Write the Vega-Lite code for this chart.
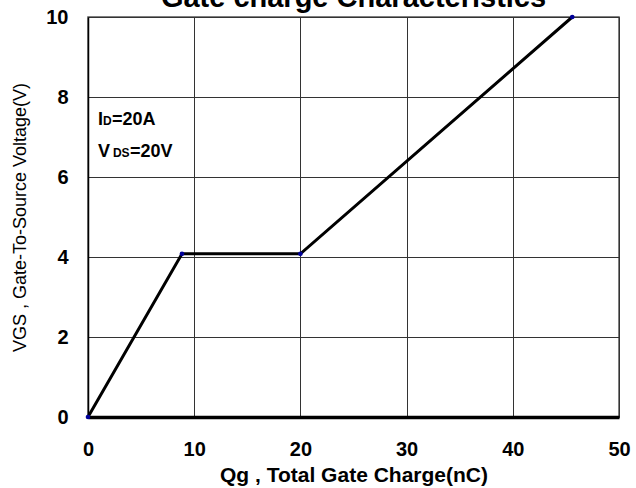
{
  "$schema": "https://vega.github.io/schema/vega-lite/v6.json",
  "autosize": {"type": "none"},
  "width": 531,
  "height": 400,
  "padding": {"left": 88, "top": 17, "right": 17, "bottom": 71},
  "background": "white",
  "title": {
    "text": "Gate charge Characteristics",
    "font": "Liberation Sans",
    "fontSize": 29,
    "fontWeight": "bold",
    "color": "black",
    "anchor": "middle",
    "baseline": "alphabetic",
    "offset": -29
  },
  "config": {
    "font": "Liberation Sans",
    "view": {"stroke": "#555555", "strokeWidth": 1.5}
  },
  "datasets": {
    "curve": [
      {"qg": 0, "vgs": 0},
      {"qg": 8.85, "vgs": 4.08},
      {"qg": 20, "vgs": 4.08},
      {"qg": 45.6, "vgs": 10}
    ],
    "notes": [
      {"x": 0.94, "y": 7.3, "t": "I"},
      {"x": 2.26, "y": 7.3, "t": "=20A"},
      {"x": 0.94, "y": 6.5, "t": "V"},
      {"x": 3.95, "y": 6.5, "t": "=20V"}
    ],
    "subs": [
      {"x": 1.41, "y": 7.3, "t": "D"},
      {"x": 2.35, "y": 6.5, "t": "DS"}
    ]
  },
  "layer": [
    {
      "data": {"name": "curve"},
      "mark": {"type": "line", "color": "black", "strokeWidth": 3, "point": {"filled": true, "color": "#000099", "size": 22}},
      "encoding": {
        "x": {
          "field": "qg", "type": "quantitative",
          "scale": {"domain": [0, 50], "nice": false, "zero": false},
          "axis": {
            "title": "Qg , Total Gate Charge(nC)",
            "values": [0, 10, 20, 30, 40, 50],
            "grid": true, "gridColor": "#333333", "gridWidth": 1, "gridOpacity": 1,
            "domain": true, "domainColor": "black", "domainWidth": 3.5,
            "ticks": false,
            "labelFont": "Liberation Sans", "labelFontSize": 20, "labelFontWeight": "bold", "labelColor": "black",
            "labelPadding": 22, "labelFlush": false,
            "titleFont": "Liberation Sans", "titleFontSize": 21, "titleFontWeight": "bold", "titleColor": "black",
            "titlePadding": 5
          }
        },
        "y": {
          "field": "vgs", "type": "quantitative",
          "scale": {"domain": [0, 10], "nice": false, "zero": false},
          "axis": {
            "title": "VGS , Gate-To-Source Voltage(V)",
            "values": [0, 2, 4, 6, 8, 10],
            "grid": true, "gridColor": "#333333", "gridWidth": 1, "gridOpacity": 1,
            "domain": true, "domainColor": "black", "domainWidth": 1.5,
            "ticks": false,
            "labelFont": "Liberation Sans", "labelFontSize": 20, "labelFontWeight": "bold", "labelColor": "black",
            "labelPadding": 20, "labelFlush": false,
            "titleFont": "Liberation Sans", "titleFontSize": 18, "titleFontWeight": "normal", "titleColor": "black",
            "titlePadding": 16
          }
        }
      }
    },
    {
      "data": {"name": "notes"},
      "mark": {"type": "text", "align": "left", "baseline": "alphabetic", "font": "Liberation Sans", "fontSize": 18, "fontWeight": "bold", "color": "black"},
      "encoding": {
        "x": {"field": "x", "type": "quantitative"},
        "y": {"field": "y", "type": "quantitative"},
        "text": {"field": "t"}
      }
    },
    {
      "data": {"name": "subs"},
      "mark": {"type": "text", "align": "left", "baseline": "alphabetic", "font": "Liberation Sans", "fontSize": 12, "fontWeight": "bold", "color": "black"},
      "encoding": {
        "x": {"field": "x", "type": "quantitative"},
        "y": {"field": "y", "type": "quantitative"},
        "text": {"field": "t"}
      }
    }
  ]
}
